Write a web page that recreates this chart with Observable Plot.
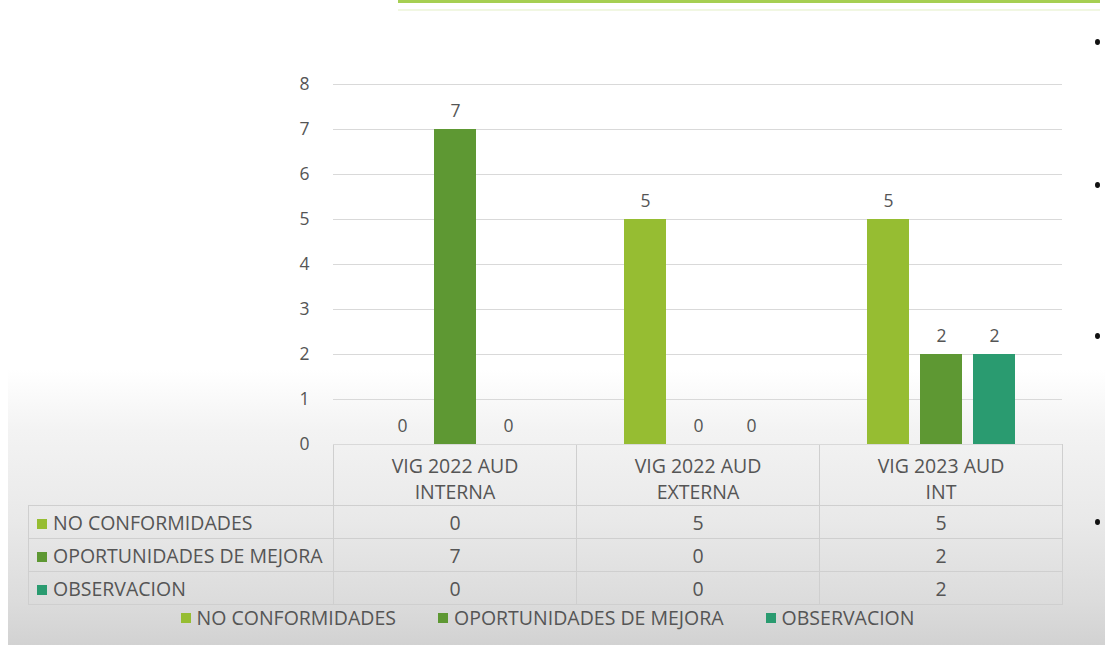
<!DOCTYPE html>
<html>
<head>
<meta charset="utf-8">
<script src="https://cdn.jsdelivr.net/npm/d3@7"></script>
<script src="https://cdn.jsdelivr.net/npm/@observablehq/plot@0.6"></script>
<style>
  html, body { margin: 0; padding: 0; background: #fff; }
  #stage { position: relative; width: 1105px; height: 645px; overflow: hidden; background: #fff; font-family: "Open Sans", sans-serif; color: #555; }
  #panel { position: absolute; left: 8px; top: 370px; right: 0; bottom: 0;
           background: linear-gradient(to bottom, rgba(255,255,255,1) 0px, #f3f3f3 60px, #e9e9e9 150px, #dcdcdc 230px, #d2d2d2 275px); }
  #topline { position: absolute; left: 398px; top: 0; width: 702px; height: 3px; background: #a6cf52; }
  #topline2 { position: absolute; left: 398px; top: 9px; width: 702px; height: 2px; background: #f1f7e2; }
  .bullet { position: absolute; width: 5px; height: 6px; border-radius: 50%; background: #111; }
  #chart { position: absolute; left: 0; top: 0; }
  #table { position: absolute; border-collapse: collapse; table-layout: fixed; font-size: 19.5px; color: #555; }
  #table td { border: 1px solid #cfcfcf; padding: 0; text-align: center; white-space: nowrap; overflow: visible; }
  #table td.lab { text-align: left; padding-left: 8px; }
  #table td.blank { border: none; }
  .sw { display: inline-block; width: 10px; height: 10px; margin-right: 6px; vertical-align: 1px; }
  #legend { position: absolute; left: 0; width: 1095px; top: 604px; display: flex; justify-content: center; gap: 42px; font-size: 19.5px; color: #555; }
  #legend span.item { display: inline-flex; align-items: center; }
</style>
</head>
<body>
<div id="stage">
  <div id="panel"></div>
  <div id="topline"></div>
  <div id="topline2"></div>
  <div class="bullet" style="left:1095px; top:39px"></div>
  <div class="bullet" style="left:1095px; top:182px"></div>
  <div class="bullet" style="left:1095px; top:333px"></div>
  <div class="bullet" style="left:1095px; top:519px"></div>
  <table id="table"></table>
  <div id="chart"></div>
  <div id="legend"></div>
</div>
<script>
// ---- data ----
const categories = ["VIG 2022 AUD\nINTERNA", "VIG 2022 AUD\nEXTERNA", "VIG 2023 AUD\nINT"];
const seriesNames = ["NO CONFORMIDADES", "OPORTUNIDADES DE MEJORA", "OBSERVACION"];
const noConformidades = [0, 5, 5];
const oportunidadesDeMejora = [7, 0, 2];
const observacion = [0, 0, 2];
const seriesColors = ["#96bd32", "#5e9833", "#2a9b70"];
const yTicks = [0, 1, 2, 3, 4, 5, 6, 7, 8];

const seriesValues = [noConformidades, oportunidadesDeMejora, observacion];
const data = categories.flatMap((c, i) =>
  seriesNames.map((s, j) => ({cat: c, series: s, value: seriesValues[j][i]}))
);

const chart = Plot.plot({
  width: 1105,
  height: 645,
  marginLeft: 332,
  marginRight: 43,
  marginTop: 84,
  marginBottom: 201,
  style: {background: "transparent", fontFamily: "Open Sans, sans-serif", color: "#555", overflow: "visible"},
  fx: {domain: categories, padding: 0, label: null},
  x: {domain: seriesNames, paddingInner: 0.215, paddingOuter: 0.878, axis: null},
  y: {domain: [0, 8], label: null},
  color: {domain: seriesNames, range: seriesColors},
  marks: [
    Plot.ruleY(yTicks, {stroke: "#d9d9d9", strokeWidth: 1}),
    Plot.barY(data, {fx: "cat", x: "series", y: "value", fill: "series"}),
    Plot.text(data, {fx: "cat", x: "series", y: "value", text: d => String(d.value), dy: -18, fontSize: 17.5, fill: "#555"}),
    Plot.axisY({ticks: yTicks, tickSize: 0, tickPadding: 24, fontSize: 17.5, label: null}),
    Plot.axisFx({anchor: "bottom", tickSize: 0, tickPadding: 10, lineAnchor: "top", lineHeight: 1.33, fontSize: 19.5, label: null})
  ]
});
document.getElementById("chart").appendChild(chart);

// ---- data table built from the fx scale ----
const fx = chart.scale("fx");
const bw = fx.bandwidth;
const x0 = fx.apply(categories[0]);
const tableLeft = 28;
const table = document.getElementById("table");
table.style.left = tableLeft + "px";
table.style.top = (645 - 201) + "px";
table.style.width = (x0 - tableLeft + bw * categories.length) + "px";
const colgroup = document.createElement("colgroup");
const c0 = document.createElement("col"); c0.style.width = (x0 - tableLeft) + "px"; colgroup.appendChild(c0);
categories.forEach(() => { const c = document.createElement("col"); c.style.width = bw + "px"; colgroup.appendChild(c); });
table.appendChild(colgroup);
const head = document.createElement("tr");
head.style.height = "61px";
const hb = document.createElement("td"); hb.className = "blank"; head.appendChild(hb);
categories.forEach(() => { const td = document.createElement("td"); head.appendChild(td); });
table.appendChild(head);
seriesNames.forEach((s, j) => {
  const tr = document.createElement("tr");
  tr.style.height = "33px";
  const lab = document.createElement("td");
  lab.className = "lab";
  lab.innerHTML = `<span class="sw" style="background:${seriesColors[j]}"></span>${s}`;
  tr.appendChild(lab);
  seriesValues[j].forEach(v => { const td = document.createElement("td"); td.textContent = v; tr.appendChild(td); });
  table.appendChild(tr);
});

// ---- legend ----
const legend = document.getElementById("legend");
seriesNames.forEach((s, j) => {
  const it = document.createElement("span");
  it.className = "item";
  it.innerHTML = `<span class="sw" style="background:${seriesColors[j]}; vertical-align:0"></span>${s}`;
  legend.appendChild(it);
});
</script>
</body>
</html>
